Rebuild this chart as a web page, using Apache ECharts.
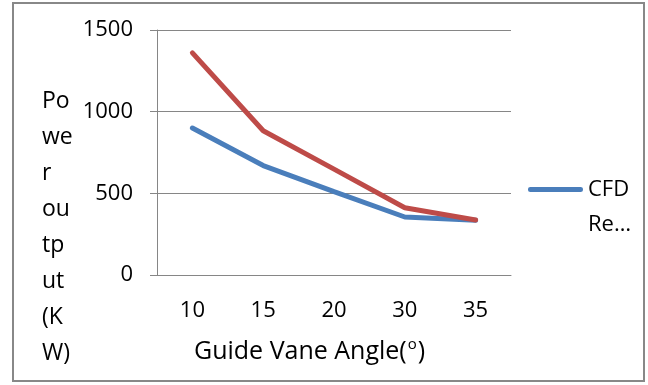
<!DOCTYPE html>
<html lang="en">
<head>
<meta charset="UTF-8">
<title>Guide Vane Angle</title>
<style>
  html, body { margin: 0; padding: 0; background: #fff; }
  #main { width: 648px; height: 385px; }
</style>
</head>
<body>
<div id="main"></div>
<script src="https://cdn.jsdelivr.net/npm/echarts@6/dist/echarts.min.js"></script>
<script>
const angles = ['10', '15', '20', '30', '35'];
const cfdResults = [900, 670, 510, 355, 335];
const otherResults = [1360, 883, 648, 412, 337];
const yTicks = { min: 0, max: 1500, interval: 500 };

const font = '"Open Sans", sans-serif';
const chart = echarts.init(document.getElementById('main'));

// tall icon box with the line drawn at its top, so the line sits beside the first text line
const legendIcon = 'path://M2.5,0 L52.5,0 A2.5,2.5 0 0 1 52.5,5 L2.5,5 A2.5,2.5 0 0 1 2.5,0 Z M0,40 L0.01,40 L0.01,40.01 Z M55,40 L54.99,40 L54.99,40.01 Z';

const option = {
    backgroundColor: '#fff',
    animation: false,
    grid: { left: 157, right: 137, top: 30, bottom: 110 },
    legend: {
        data: ['CFD Results'],
        left: 528,
        top: 172,
        padding: 0,
        orient: 'vertical',
        icon: legendIcon,
        itemWidth: 55,
        itemHeight: 40,
        formatter: () => 'CFD\nRe…',
        textStyle: { fontFamily: font, fontSize: 22, color: '#000', lineHeight: 35 }
    },
    xAxis: {
        type: 'category',
        data: angles,
        axisLine: { lineStyle: { color: '#868686', width: 1 } },
        axisTick: { length: 8, lineStyle: { color: '#868686' } },
        axisLabel: { fontFamily: font, fontSize: 22, color: '#000', margin: 25 }
    },
    yAxis: {
        type: 'value',
        min: yTicks.min,
        max: yTicks.max,
        interval: yTicks.interval,
        axisLine: { show: true, lineStyle: { color: '#868686', width: 1 } },
        axisTick: { show: true, length: 7, lineStyle: { color: '#868686' } },
        axisLabel: {
            fontFamily: font, fontSize: 22, color: '#000', margin: 24,
            padding: [6, 0, 0, 0], formatter: v => String(v)
        },
        splitLine: { lineStyle: { color: '#868686', width: 1 } }
    },
    graphic: [
        {
            type: 'rect',
            shape: { x: 13, y: 3, width: 631, height: 378 },
            style: { fill: 'none', stroke: '#888', lineWidth: 2 },
            silent: true
        },
        {
            type: 'text',
            left: 42,
            top: 83,
            style: {
                text: 'Po\nwe\nr\nou\ntp\nut\n(K\nW)',
                font: '23px ' + font,
                fill: '#000',
                lineHeight: 36
            }
        },
        {
            type: 'text',
            left: 194,
            top: 337,
            style: {
                text: 'Guide Vane Angle({sup|o})',
                font: '25px ' + font,
                fill: '#000',
                rich: {
                    sup: { fontSize: 15, fontFamily: font, verticalAlign: 'top', padding: [0, 1, 14, 1] }
                }
            }
        }
    ],
    series: [
        {
            name: 'CFD Results',
            type: 'line',
            data: cfdResults,
            symbol: 'none',
            lineStyle: { color: '#4A7EBB', width: 5, cap: 'round' },
            itemStyle: { color: '#4A7EBB' }
        },
        {
            name: 'Other Results',
            type: 'line',
            data: otherResults,
            symbol: 'none',
            lineStyle: { color: '#BE4B48', width: 5, cap: 'round' },
            itemStyle: { color: '#BE4B48' }
        }
    ]
};

chart.setOption(option);
</script>
</body>
</html>
